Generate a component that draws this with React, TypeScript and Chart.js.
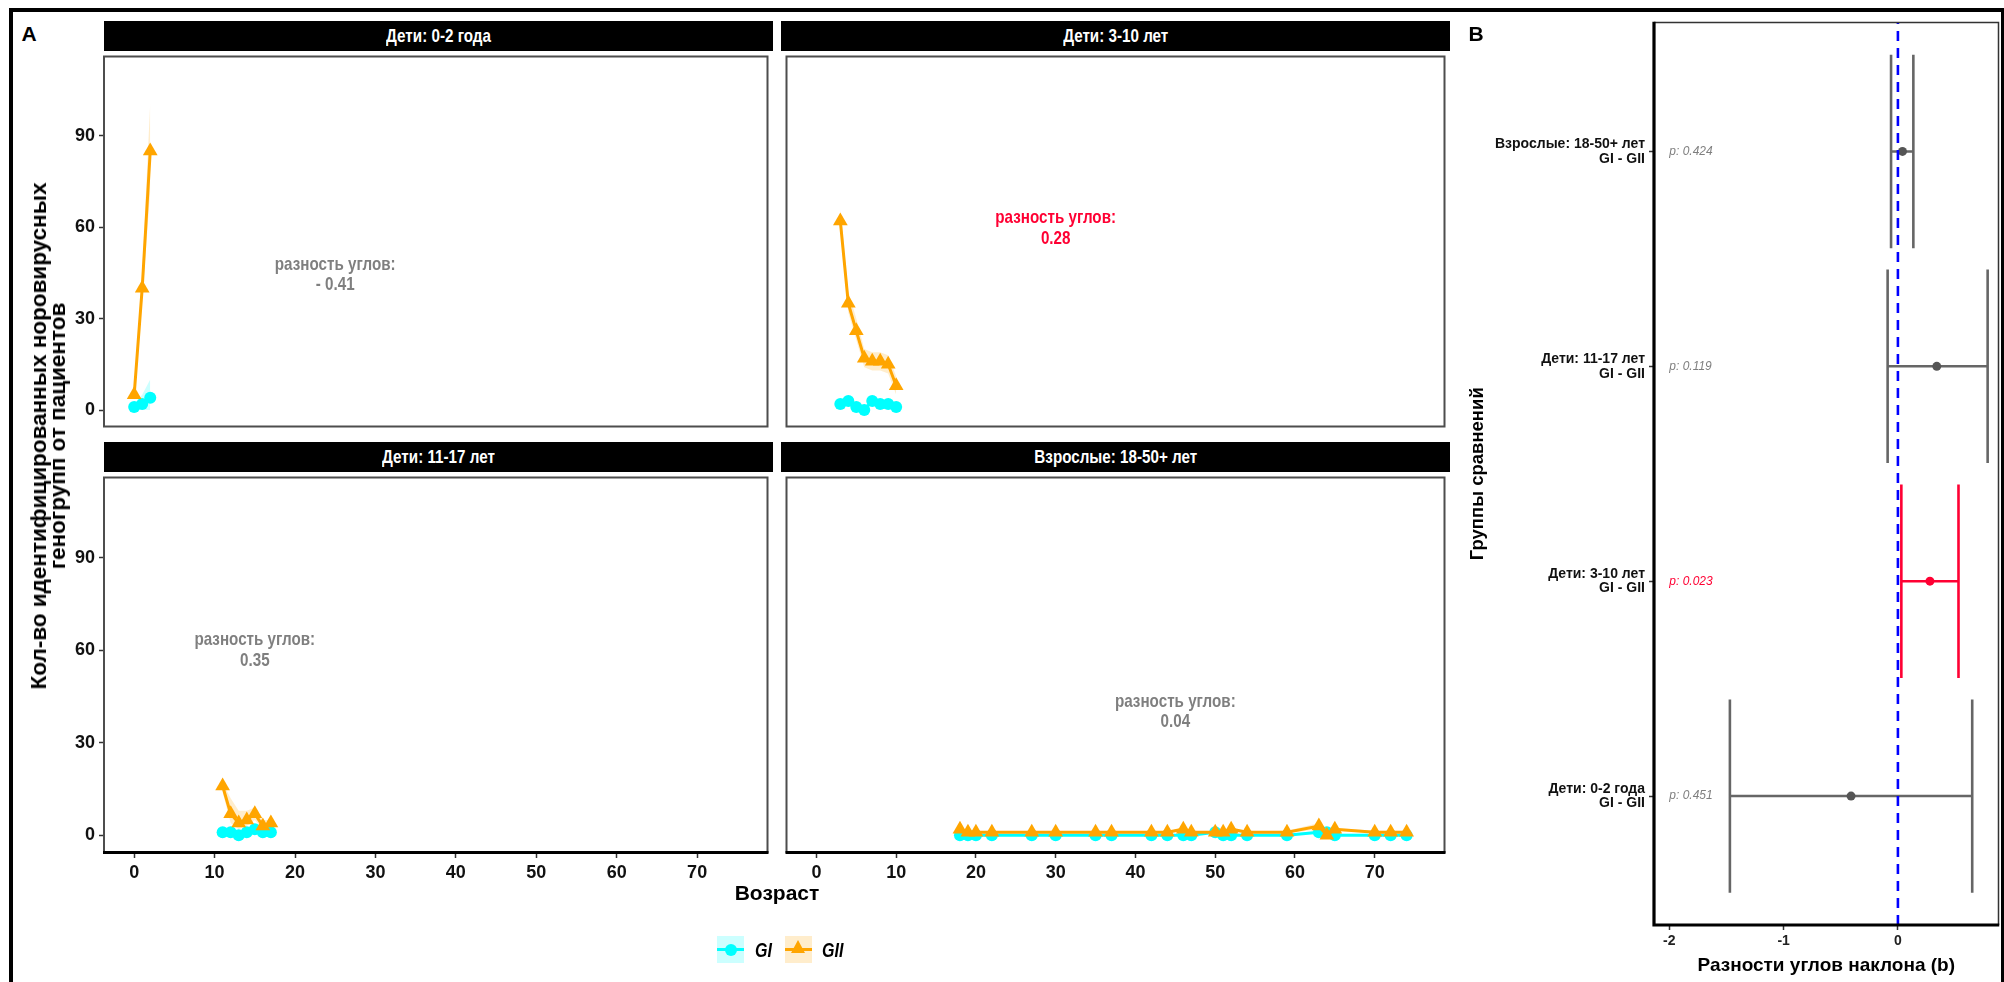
import React, { useEffect, useRef } from 'react';
import { Chart, registerables } from 'chart.js';

Chart.register(...registerables);

const SANS = "'Liberation Sans', Arial, 'DejaVu Sans', sans-serif";
const SQUEEZE = 0.8;

const COL_GI = '#00FFFF';
const COL_GII = '#FFA500';
const FILL_GI = 'rgba(0,255,255,0.2)';
const FILL_GII = 'rgba(255,165,0,0.2)';
const COL_NOTE = '#7F7F7F';
const COL_SIG = '#FF0033';
const COL_BAR = '#666666';

// ---------- shared facet axes ----------
const X_MIN = -3.75;
const X_MAX = 78.75;
const Y_MIN = -5.4;
const Y_MAX = 116;
const X_TICKS = [0, 10, 20, 30, 40, 50, 60, 70];
const Y_TICKS = [0, 30, 60, 90];

const PANEL_TITLES = ['Дети: 0-2 года', 'Дети: 3-10 лет', 'Дети: 11-17 лет', 'Взрослые: 18-50+ лет'];
const NOTE_HEAD = 'разность углов:';
const NOTE_VALUES = ['- 0.41', '0.28', '0.35', '0.04'];
const NOTE_X = [25, 30, 15, 45];
const NOTE_Y = [44.4, 59.7, 60, 40];
const NOTE_SIG = [false, true, false, false];

// ---------- panel: 0-2 года ----------
const AGE_0_2 = [0, 1, 2];
const GI_0_2 = [1, 2, 4];
const GII_0_2 = [5, 40, 85];
const GI_LO_0_2 = [0, 0, 0];
const GI_HI_0_2 = [2, 5, 10];
const GII_LO_0_2 = [3, 36, 72];
const GII_HI_0_2 = [7, 45, 101];

// ---------- panel: 3-10 лет ----------
const AGE_3_10 = [3, 4, 5, 6, 7, 8, 9, 10];
const GI_3_10 = [2, 3, 1, 0, 3, 2, 2, 1];
const GII_3_10 = [62, 35, 26, 17, 16, 16, 15, 8];
const GI_LO_3_10 = [1, 2, 0, 0, 2, 1, 1, 0];
const GI_HI_3_10 = [3, 4, 2, 1, 4, 3, 3, 2];
const GII_LO_3_10 = [59, 32, 23, 14, 13, 13, 12, 5];
const GII_HI_3_10 = [66, 39, 30, 20, 19, 19, 18, 11];

// ---------- panel: 11-17 лет ----------
const AGE_11_17 = [11, 12, 13, 14, 15, 16, 17];
const GI_11_17 = [1, 1, 0, 1, 2, 1, 1];
const GII_11_17 = [16, 7, 4, 5, 7, 3, 4];
const GI_LO_11_17 = [0, 0, 0, 0, 1, 0, 0];
const GI_HI_11_17 = [2, 2, 1, 2, 3, 2, 2];
const GII_LO_11_17 = [14, 4, 2, 3, 5, 2, 3];
const GII_HI_11_17 = [17, 12, 8, 8, 9, 5, 5];

// ---------- panel: 18-50+ лет ----------
const AGE_ADULT = [18, 19, 20, 22, 27, 30, 35, 37, 42, 44, 46, 47, 50, 51, 52, 54, 59, 63, 64, 65, 70, 72, 74];
const GI_ADULT = [0, 0, 0, 0, 0, 0, 0, 0, 0, 0, 0, 0, 1, 0, 0, 0, 0, 1, 1, 0, 0, 0, 0];
const GII_ADULT = [2, 1, 1, 1, 1, 1, 1, 1, 1, 1, 2, 1, 1, 1, 2, 1, 1, 3, 0, 2, 1, 1, 1];
const GI_LO_ADULT = [0, 0, 0, 0, 0, 0, 0, 0, 0, 0, 0, 0, 0.5, 0, 0, 0, 0, 0.5, 0.5, 0, 0, 0, 0];
const GI_HI_ADULT = [0.5, 0.5, 0.5, 0.5, 0.5, 0.5, 0.5, 0.5, 0.5, 0.5, 0.5, 0.5, 1.5, 0.5, 0.5, 0.5, 0.5, 1.5, 1.5, 0.5, 0.5, 0.5, 0.5];
const GII_LO_ADULT = [1.5, 0.7, 0.7, 0.7, 0.7, 0.7, 0.7, 0.7, 0.7, 0.7, 1.5, 0.7, 0.7, 0.7, 1.5, 0.7, 0.7, 2, 0, 1.5, 0.7, 0.7, 0.7];
const GII_HI_ADULT = [2.5, 1.3, 1.3, 1.3, 1.3, 1.3, 1.3, 1.3, 1.3, 1.3, 2.5, 1.3, 1.3, 1.3, 2.5, 1.3, 1.5, 4, 1.5, 2.5, 1.5, 1.5, 1.5];

// ---------- forest plot (B) ----------
const FOREST_GROUPS = ['Дети: 0-2 года', 'Дети: 3-10 лет', 'Дети: 11-17 лет', 'Взрослые: 18-50+ лет'];
const FOREST_PAIR = 'GI - GII';
const FOREST_EST = [-0.41, 0.28, 0.34, 0.04];
const FOREST_LOW = [-1.47, 0.03, -0.09, -0.06];
const FOREST_HIGH = [0.65, 0.53, 0.785, 0.135];
const FOREST_P = ['0.451', '0.023', '0.119', '0.424'];
const FOREST_SIG = [false, true, false, false];
const FOREST_X_MIN = -2.134;
const FOREST_X_MAX = 0.88;
const FOREST_X_TICKS = [-2, -1, 0];
const FOREST_Y_TICKS = [1, 2, 3, 4];
const WHISKER = 0.45;

const PANELS = [
  { ages: AGE_0_2, gi: GI_0_2, gii: GII_0_2, giLo: GI_LO_0_2, giHi: GI_HI_0_2, giiLo: GII_LO_0_2, giiHi: GII_HI_0_2 },
  { ages: AGE_3_10, gi: GI_3_10, gii: GII_3_10, giLo: GI_LO_3_10, giHi: GI_HI_3_10, giiLo: GII_LO_3_10, giiHi: GII_HI_3_10 },
  { ages: AGE_11_17, gi: GI_11_17, gii: GII_11_17, giLo: GI_LO_11_17, giHi: GI_HI_11_17, giiLo: GII_LO_11_17, giiHi: GII_HI_11_17 },
  { ages: AGE_ADULT, gi: GI_ADULT, gii: GII_ADULT, giLo: GI_LO_ADULT, giHi: GI_HI_ADULT, giiLo: GII_LO_ADULT, giiHi: GII_HI_ADULT },
];

const pts = (xs: number[], ys: number[]) => xs.map((x, i) => ({ x, y: ys[i] }));

const zeroPad = (s: any) => {
  s.paddingLeft = 0;
  s.paddingRight = 0;
  s.paddingTop = 0;
  s.paddingBottom = 0;
};

type FacetProps = {
  idx: number;
  left: number;
  top: number;
  width: number;
  height: number;
  showY: boolean;
  showX: boolean;
};

function Facet({ idx, left, top, width, height, showY, showX }: FacetProps) {
  const ref = useRef<HTMLCanvasElement>(null);
  const PAD = 3;
  const YW = 50;
  const XH = 38;
  const padL = showY ? YW : PAD;
  const padB = showX ? XH : PAD;
  const cLeft = left - padL;
  const cTop = top - PAD;
  const cW = width + padL + PAD;
  const cH = height + PAD + padB;
  const STRIP = 30;

  useEffect(() => {
    const p = PANELS[idx];
    const noteColor = NOTE_SIG[idx] ? COL_SIG : COL_NOTE;
    const plugin = {
      id: 'facet' + idx,
      afterDatasetsDraw(chart: any) {
        const { ctx, scales } = chart;
        const px = scales.x.getPixelForValue(NOTE_X[idx]);
        const py = scales.y.getPixelForValue(NOTE_Y[idx]);
        const lines = [NOTE_HEAD, NOTE_VALUES[idx]];
        const lh = 20.5;
        ctx.save();
        ctx.translate(px, py);
        ctx.scale(SQUEEZE, 1);
        ctx.font = `bold 19px ${SANS}`;
        ctx.fillStyle = noteColor;
        ctx.textAlign = 'center';
        ctx.textBaseline = 'middle';
        lines.forEach((t, i) => ctx.fillText(t, 0, (i - (lines.length - 1) / 2) * lh));
        ctx.restore();
      },
      afterDraw(chart: any) {
        const { ctx, chartArea: a } = chart;
        ctx.save();
        ctx.strokeStyle = '#4d4d4d';
        ctx.lineWidth = 2;
        ctx.strokeRect(a.left, a.top, a.right - a.left, a.bottom - a.top);
        if (showX) {
          ctx.strokeStyle = '#000';
          ctx.lineWidth = 3;
          ctx.beginPath();
          ctx.moveTo(a.left - 1, a.bottom + 0.5);
          ctx.lineTo(a.right + 1, a.bottom + 0.5);
          ctx.stroke();
        }
        ctx.restore();
      },
    };
    const tickFont = { family: SANS, size: 18, weight: 'bold' as const };
    const chart = new Chart(ref.current as HTMLCanvasElement, {
      type: 'line',
      data: {
        datasets: [
          { data: pts(p.ages, p.gii), borderColor: COL_GII, backgroundColor: COL_GII, borderWidth: 3, pointStyle: 'triangle', pointRadius: 8.5, pointBorderWidth: 0, fill: false },
          { data: pts(p.ages, p.gi), borderColor: COL_GI, backgroundColor: COL_GI, borderWidth: 3, pointStyle: 'circle', pointRadius: 6, pointBorderWidth: 0, fill: false },
          { data: pts(p.ages, p.giiHi), borderColor: 'transparent', borderWidth: 0, pointRadius: 0, backgroundColor: FILL_GII, fill: 3 },
          { data: pts(p.ages, p.giiLo), borderColor: 'transparent', borderWidth: 0, pointRadius: 0, fill: false },
          { data: pts(p.ages, p.giHi), borderColor: 'transparent', borderWidth: 0, pointRadius: 0, backgroundColor: FILL_GI, fill: 5 },
          { data: pts(p.ages, p.giLo), borderColor: 'transparent', borderWidth: 0, pointRadius: 0, fill: false },
        ] as any,
      },
      options: {
        responsive: false,
        animation: false,
        maintainAspectRatio: false,
        events: [],
        layout: { padding: { left: showY ? 0 : PAD, right: PAD, top: PAD, bottom: showX ? 0 : PAD } },
        elements: { line: { tension: 0 } },
        plugins: { legend: { display: false }, tooltip: { enabled: false } },
        scales: {
          x: {
            type: 'linear',
            min: X_MIN,
            max: X_MAX,
            display: showX,
            afterBuildTicks: (s: any) => { s.ticks = X_TICKS.map((v) => ({ value: v })); },
            afterFit: (s: any) => { if (showX) s.height = XH; zeroPad(s); },
            grid: { display: true, drawOnChartArea: false, drawTicks: true, tickLength: 6, tickColor: '#333', tickWidth: 1.5 },
            border: { display: false },
            ticks: { font: tickFont, color: '#111', padding: 4, maxRotation: 0, autoSkip: false },
          },
          y: {
            type: 'linear',
            min: Y_MIN,
            max: Y_MAX,
            display: showY,
            afterBuildTicks: (s: any) => { s.ticks = Y_TICKS.map((v) => ({ value: v })); },
            afterFit: (s: any) => { if (showY) s.width = YW; zeroPad(s); },
            grid: { display: true, drawOnChartArea: false, drawTicks: true, tickLength: 5, tickColor: '#333', tickWidth: 1.5 },
            border: { display: false },
            ticks: { font: tickFont, color: '#111', padding: 4, autoSkip: false },
          },
        },
      } as any,
      plugins: [plugin],
    });
    return () => chart.destroy();
  }, []);

  return (
    <>
      <div
        style={{
          position: 'absolute', left, top: top - STRIP, width, height: STRIP, background: '#000',
          display: 'flex', alignItems: 'center', justifyContent: 'center',
        }}
      >
        <span style={{ color: '#fff', font: `bold 19px ${SANS}`, display: 'inline-block', transform: `scaleX(${SQUEEZE})`, whiteSpace: 'nowrap' }}>
          {PANEL_TITLES[idx]}
        </span>
      </div>
      <canvas ref={ref} width={cW} height={cH} style={{ position: 'absolute', left: cLeft, top: cTop, width: cW, height: cH }} />
    </>
  );
}

function Forest() {
  const ref = useRef<HTMLCanvasElement>(null);
  const cLeft = 1462;
  const cTop = 18;
  const cW = 2003 - cLeft;
  const cH = 982 - cTop;
  const plotL = 1654;
  const plotT = 21;
  const plotR = 2000;
  const plotB = 925;

  useEffect(() => {
    const cats = FOREST_EST.map((_, i) => i + 1);
    const barSets = FOREST_EST.map((_, i) => {
      const c = cats[i];
      const lo = FOREST_LOW[i];
      const hi = FOREST_HIGH[i];
      return {
        data: [
          { x: lo, y: c - WHISKER }, { x: lo, y: c + WHISKER }, { x: lo, y: null },
          { x: lo, y: c }, { x: hi, y: c }, { x: hi, y: null },
          { x: hi, y: c - WHISKER }, { x: hi, y: c + WHISKER },
        ],
        showLine: true,
        spanGaps: false,
        borderColor: FOREST_SIG[i] ? COL_SIG : COL_BAR,
        borderWidth: 2.6,
        borderCapStyle: 'butt',
        pointRadius: 0,
        fill: false,
      };
    });
    const pointSet = {
      data: FOREST_EST.map((v, i) => ({ x: v, y: cats[i] })),
      pointRadius: 4.5,
      pointBorderWidth: 0,
      backgroundColor: FOREST_EST.map((_, i) => (FOREST_SIG[i] ? COL_SIG : '#555555')),
      showLine: false,
    };
    const zeroSet = {
      data: [{ x: 0, y: 0.4 }, { x: 0, y: 4.6 }],
      showLine: true,
      borderColor: '#0000FF',
      borderWidth: 2.6,
      borderDash: [10, 7],
      pointRadius: 0,
      fill: false,
    };
    const plugin = {
      id: 'forest',
      afterDatasetsDraw(chart: any) {
        const { ctx, scales } = chart;
        ctx.save();
        ctx.font = `italic 12px ${SANS}`;
        ctx.textAlign = 'left';
        ctx.textBaseline = 'middle';
        FOREST_P.forEach((p, i) => {
          ctx.fillStyle = FOREST_SIG[i] ? COL_SIG : COL_NOTE;
          ctx.fillText('p: ' + p, scales.x.getPixelForValue(-2), scales.y.getPixelForValue(cats[i]));
        });
        ctx.restore();
      },
      afterDraw(chart: any) {
        const { ctx, chartArea: a } = chart;
        ctx.save();
        ctx.strokeStyle = '#333';
        ctx.lineWidth = 1.5;
        ctx.beginPath();
        ctx.moveTo(a.left, a.top);
        ctx.lineTo(a.right, a.top);
        ctx.lineTo(a.right, a.bottom);
        ctx.stroke();
        ctx.strokeStyle = '#000';
        ctx.lineWidth = 3.2;
        ctx.beginPath();
        ctx.moveTo(a.left, a.top - 0.75);
        ctx.lineTo(a.left, a.bottom);
        ctx.lineTo(a.right + 0.75, a.bottom);
        ctx.stroke();
        ctx.restore();
      },
    };
    const chart = new Chart(ref.current as HTMLCanvasElement, {
      type: 'scatter',
      data: { datasets: [zeroSet, pointSet, ...barSets] as any },
      options: {
        responsive: false,
        animation: false,
        maintainAspectRatio: false,
        events: [],
        layout: { padding: { left: 0, top: plotT - cTop, right: cLeft + cW - plotR, bottom: 0 } },
        plugins: { legend: { display: false }, tooltip: { enabled: false } },
        scales: {
          x: {
            type: 'linear',
            min: FOREST_X_MIN,
            max: FOREST_X_MAX,
            afterBuildTicks: (s: any) => { s.ticks = FOREST_X_TICKS.map((v) => ({ value: v })); },
            afterFit: (s: any) => { s.height = cTop + cH - plotB; zeroPad(s); },
            grid: { display: true, drawOnChartArea: false, drawTicks: true, tickLength: 5, tickColor: '#333', tickWidth: 1.5 },
            border: { display: false },
            ticks: { font: { family: SANS, size: 14, weight: 'bold' }, color: '#222', padding: 3, maxRotation: 0, autoSkip: false },
            title: { display: true, text: 'Разности углов наклона (b)', font: { family: SANS, size: 19, weight: 'bold' }, color: '#000', padding: { top: 0, bottom: 5 } },
          },
          y: {
            type: 'linear',
            min: 0.4,
            max: 4.6,
            afterBuildTicks: (s: any) => { s.ticks = FOREST_Y_TICKS.map((v) => ({ value: v })); },
            afterFit: (s: any) => { s.width = plotL - cLeft; zeroPad(s); },
            grid: { display: true, drawOnChartArea: false, drawTicks: true, tickLength: 5, tickColor: '#333', tickWidth: 1.5 },
            border: { display: false },
            ticks: {
              font: { family: SANS, size: 14, weight: 'bold', lineHeight: 1.05 },
              color: '#111',
              padding: 4,
              autoSkip: false,
              callback: (v: any) => {
                const i = Math.round(Number(v)) - 1;
                return [FOREST_GROUPS[i], FOREST_PAIR];
              },
            },
            title: { display: true, text: 'Группы сравнений', font: { family: SANS, size: 18.5, weight: 'bold' }, color: '#000', padding: { top: 5, bottom: 0 } },
          },
        },
      } as any,
      plugins: [plugin],
    });
    return () => chart.destroy();
  }, []);

  return <canvas ref={ref} width={cW} height={cH} style={{ position: 'absolute', left: cLeft, top: cTop, width: cW, height: cH }} />;
}

function LegendKey({ left, kind }: { left: number; kind: 'GI' | 'GII' }) {
  const isGI = kind === 'GI';
  const col = isGI ? COL_GI : COL_GII;
  return (
    <div style={{ position: 'absolute', left, top: 936, width: 27, height: 27, background: isGI ? FILL_GI : FILL_GII }}>
      <div style={{ position: 'absolute', left: 0, top: 12, width: 27, height: 3, background: col }} />
      {isGI ? (
        <div style={{ position: 'absolute', left: 7.5, top: 7.5, width: 12, height: 12, borderRadius: 6, background: col }} />
      ) : (
        <div style={{ position: 'absolute', left: 6, top: 4, width: 0, height: 0, borderLeft: '7.5px solid transparent', borderRight: '7.5px solid transparent', borderBottom: `13px solid ${col}` }} />
      )}
    </div>
  );
}

export default function App() {
  useEffect(() => {
    document.body.style.margin = '0';
  }, []);
  const colL = [104, 781];
  const rowT = [51, 472];
  const W = 669;
  const H = [381, 380];
  const txt = (extra: React.CSSProperties): React.CSSProperties => ({ position: 'absolute', whiteSpace: 'nowrap', lineHeight: 1, ...extra });
  return (
    <div style={{ position: 'absolute', left: 0, top: 0, width: 2004, height: 982, background: '#fff', overflow: 'hidden' }}>
      <div style={{ position: 'absolute', left: 9, top: 8, width: 1995, height: 990, boxSizing: 'border-box', borderLeft: '4px solid #000', borderTop: '4px solid #000', borderRight: '3px solid #000' }} />
      <Facet idx={0} left={colL[0]} top={rowT[0]} width={W} height={H[0]} showY={true} showX={false} />
      <Facet idx={1} left={colL[1]} top={rowT[0]} width={W} height={H[0]} showY={false} showX={false} />
      <Facet idx={2} left={colL[0]} top={rowT[1]} width={W} height={H[1]} showY={true} showX={true} />
      <Facet idx={3} left={colL[1]} top={rowT[1]} width={W} height={H[1]} showY={false} showX={true} />
      <Forest />
      <div style={txt({ left: 29, top: 34, transform: 'translate(-50%,-50%)', font: `bold 21px ${SANS}` })}>A</div>
      <div style={txt({ left: 1476, top: 34, transform: 'translate(-50%,-50%)', font: `bold 21px ${SANS}` })}>B</div>
      <div
        style={{
          position: 'absolute', left: 48, top: 436, transform: 'translate(-50%,-50%) rotate(-90deg)', whiteSpace: 'nowrap',
          font: `bold 22.5px ${SANS}`, lineHeight: '19px', textAlign: 'center',
        }}
      >
        Кол-во идентифицированных норовирусных
        <br />
        геногрупп от пациентов
      </div>
      <div style={txt({ left: 777, top: 893, transform: 'translate(-50%,-50%)', font: `bold 21px ${SANS}` })}>Возраст</div>
      <LegendKey left={717} kind="GI" />
      <div style={txt({ left: 755, top: 950, transform: `translateY(-50%) scaleX(${SQUEEZE})`, transformOrigin: 'left center', font: `italic bold 20px ${SANS}` })}>GI</div>
      <LegendKey left={785} kind="GII" />
      <div style={txt({ left: 822, top: 950, transform: `translateY(-50%) scaleX(${SQUEEZE})`, transformOrigin: 'left center', font: `italic bold 20px ${SANS}` })}>GII</div>
    </div>
  );
}
